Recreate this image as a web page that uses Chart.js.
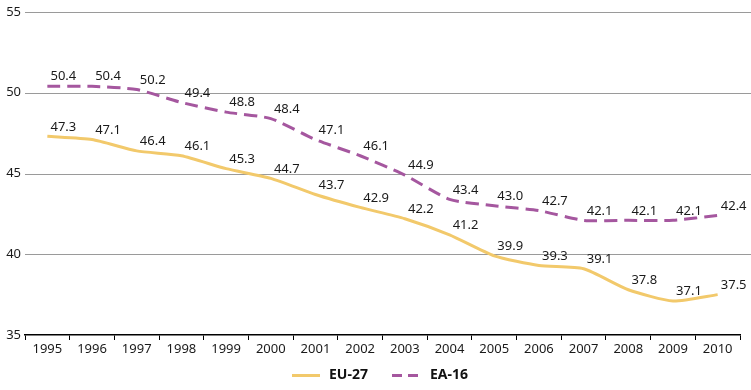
<!DOCTYPE html>
<html>
<head>
<meta charset="utf-8">
<script src="https://cdn.jsdelivr.net/npm/chart.js@4"></script>
<style>
  html, body { margin: 0; padding: 0; background: #fff; }
  #wrap { width: 751px; height: 390px; }
</style>
</head>
<body>
<div id="wrap"><canvas id="chart" width="751" height="390"></canvas></div>
<script>
const years = ["1995", "1996", "1997", "1998", "1999", "2000", "2001", "2002",
  "2003", "2004", "2005", "2006", "2007", "2008", "2009", "2010"];
const eu27 = [47.3, 47.1, 46.4, 46.1, 45.3, 44.7, 43.7, 42.9, 42.2, 41.2, 39.9, 39.3, 39.1, 37.8, 37.1, 37.5];
const ea16 = [50.4, 50.4, 50.2, 49.4, 48.8, 48.4, 47.1, 46.1, 44.9, 43.4, 43.0, 42.7, 42.1, 42.1, 42.1, 42.4];
const yTicks = [35, 40, 45, 50, 55];

const FONT = "'Noto Sans', 'Open Sans', sans-serif";
const YELLOW = "#f2c96b";
const PURPLE = "#a5579f";

// horizontal gridlines run to the right edge of the canvas
const gridPlugin = {
  id: "grid",
  beforeDatasetsDraw(chart) {
    const ctx = chart.ctx;
    const y = chart.scales.y;
    ctx.save();
    ctx.strokeStyle = "#9a9a9a";
    ctx.lineWidth = 1;
    yTicks.forEach((v) => {
      if (v === 35) return;
      const py = Math.round(y.getPixelForValue(v)) + 0.5;
      ctx.beginPath();
      ctx.moveTo(chart.chartArea.left, py);
      ctx.lineTo(chart.width, py);
      ctx.stroke();
    });
    ctx.restore();
  },
};

// value labels up and to the right of each point
const labelPlugin = {
  id: "valueLabels",
  afterDatasetsDraw(chart) {
    const ctx = chart.ctx;
    ctx.save();
    ctx.font = "13px " + FONT;
    ctx.fillStyle = "#1a1a1a";
    ctx.textAlign = "center";
    ctx.textBaseline = "bottom";
    chart.data.datasets.forEach((ds, i) => {
      chart.getDatasetMeta(i).data.forEach((pt, j) => {
        ctx.fillText(ds.data[j].toFixed(1), pt.x + 16, pt.y - 3);
      });
    });
    ctx.restore();
  },
};

// legend drawn by hand so the dashed line shows
const legendPlugin = {
  id: "bottomLegend",
  afterDraw(chart) {
    const ctx = chart.ctx;
    const y = 375.5;
    ctx.save();
    ctx.font = "bold 14px " + FONT;
    ctx.textBaseline = "middle";
    ctx.fillStyle = "#111";
    ctx.lineWidth = 3;
    ctx.strokeStyle = YELLOW;
    ctx.beginPath();
    ctx.moveTo(292, y);
    ctx.lineTo(320, y);
    ctx.stroke();
    ctx.fillText(chart.data.datasets[0].label, 329, y);
    ctx.strokeStyle = PURPLE;
    ctx.setLineDash([10, 6]);
    ctx.beginPath();
    ctx.moveTo(392, y);
    ctx.lineTo(420, y);
    ctx.stroke();
    ctx.setLineDash([]);
    ctx.fillText(chart.data.datasets[1].label, 430, y);
    ctx.restore();
  },
};

new Chart(document.getElementById("chart"), {
  type: "line",
  data: {
    labels: years,
    datasets: [
      {
        label: "EU-27",
        data: eu27,
        borderColor: YELLOW,
        borderWidth: 3,
        pointRadius: 0,
        tension: 0.2,
      },
      {
        label: "EA-16",
        data: ea16,
        borderColor: PURPLE,
        borderWidth: 3,
        borderDash: [13, 7],
        pointRadius: 0,
        tension: 0.2,
      },
    ],
  },
  options: {
    responsive: false,
    animation: false,
    layout: { padding: { top: 12, right: 11, bottom: 35, left: 0 } },
    plugins: {
      legend: { display: false },
      tooltip: { enabled: false },
    },
    scales: {
      y: {
        min: 35,
        max: 55,
        afterFit: (s) => { s.width = 25; },
        afterBuildTicks: (s) => { s.ticks = yTicks.map((v) => ({ value: v })); },
        grid: { display: false, drawTicks: false },
        border: { display: false },
        ticks: {
          padding: 4,
          color: "#1a1a1a",
          font: { family: FONT, size: 13 },
        },
      },
      x: {
        offset: true,
        afterFit: (s) => { s.height = 20; },
        grid: {
          offset: true,
          drawOnChartArea: false,
          color: "#000",
          tickLength: 5,
        },
        border: { display: true, color: "#000", width: 1.5 },
        ticks: {
          padding: 1,
          color: "#1a1a1a",
          maxRotation: 0,
          autoSkip: false,
          font: { family: FONT, size: 13 },
        },
      },
    },
  },
  plugins: [gridPlugin, labelPlugin, legendPlugin],
});
</script>
</body>
</html>
